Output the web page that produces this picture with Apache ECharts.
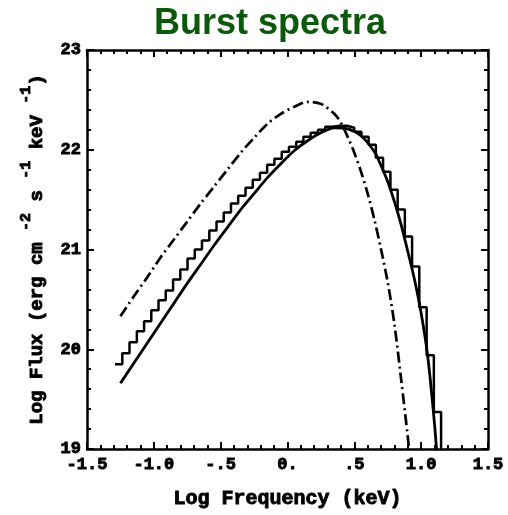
<!DOCTYPE html>
<html>
<head>
<meta charset="utf-8">
<script src="https://cdn.jsdelivr.net/npm/echarts@6/dist/echarts.min.js"></script>
<style>html,body{margin:0;padding:0;background:#fff;}#c{width:508px;height:515px;}</style>
</head>
<body>
<div id="c"></div>
<script>
// ---- data ----
var xTickLabels = ['-1.5', '-1.0', '-.5', '0.', '.5', '1.0', '1.5'];
var yTickLabels = ['19', '20', '21', '22', '23'];

var solidX = [-1.25,-1.15,-1.05,-0.95,-0.85,-0.75,-0.65,-0.55,-0.45,-0.35,-0.25,-0.15,-0.05,0.05,0.15,0.25,0.35,0.45,0.55,0.65,0.70,0.75,0.80,0.85,0.90,0.95,1.00,1.05,1.10,1.12];
var solidY = [19.66,19.86,20.06,20.26,20.46,20.66,20.85,21.04,21.22,21.40,21.56,21.72,21.86,21.99,22.09,22.17,22.22,22.21,22.14,21.98,21.84,21.68,21.48,21.25,20.98,20.70,20.36,19.92,19.25,18.90];

var dashX = [-1.25,-1.15,-1.05,-0.95,-0.85,-0.75,-0.65,-0.55,-0.45,-0.35,-0.25,-0.15,-0.05,0.05,0.15,0.25,0.35,0.40,0.45,0.50,0.55,0.60,0.65,0.70,0.75,0.80,0.85,0.90,0.92];
var dashY = [20.33,20.53,20.72,20.92,21.10,21.28,21.46,21.63,21.80,21.97,22.12,22.26,22.36,22.43,22.48,22.46,22.36,22.27,22.13,21.97,21.78,21.56,21.30,21.00,20.67,20.25,19.70,19.12,18.85];

var histEdges = [-1.290,-1.236,-1.182,-1.127,-1.073,-1.019,-0.965,-0.911,-0.856,-0.802,-0.748,-0.694,-0.640,-0.585,-0.531,-0.477,-0.423,-0.369,-0.314,-0.260,-0.206,-0.152,-0.098,-0.043,0.011,0.065,0.119,0.173,0.228,0.282,0.336,0.390,0.444,0.499,0.553,0.607,0.661,0.715,0.770,0.824,0.878,0.932,0.986,1.041,1.095,1.149];
var histValues = [19.85,19.96,20.07,20.18,20.28,20.39,20.49,20.59,20.70,20.80,20.91,21.00,21.09,21.19,21.28,21.37,21.46,21.54,21.62,21.70,21.77,21.85,21.91,21.98,22.03,22.08,22.13,22.17,22.20,22.23,22.24,22.24,22.22,22.18,22.13,22.05,21.92,21.78,21.60,21.40,21.13,20.83,20.42,19.94,19.37];

var xMin = -1.5, xMax = 1.5, yMin = 19, yMax = 23;

// ---- build series data ----
function pairs(xs, ys) { var out = []; for (var i = 0; i < xs.length; i++) out.push([xs[i], ys[i]]); return out; }
var histData = pairs(histEdges.slice(0, histValues.length), histValues);
histData.push([histEdges[histEdges.length - 1], yMin - 1]);

var FONT = '"Liberation Mono", "DejaVu Sans Mono", monospace';

function xFmt(v) {
  var idx = Math.round((v - xMin) / 0.5);
  return xTickLabels[idx] !== undefined ? xTickLabels[idx] : '';
}
function yFmt(v) {
  var idx = Math.round(v - yMin);
  return yTickLabels[idx] !== undefined ? yTickLabels[idx] : '';
}

var tickCommon = {
  axisLine: { show: true, onZero: false, lineStyle: { color: '#000', width: 2.5 } },
  axisTick: { show: true, inside: true, length: 7, lineStyle: { color: '#000', width: 2 } },
  minorTick: { show: true, splitNumber: 5, length: 4, lineStyle: { color: '#000', width: 2 } },
  splitLine: { show: false },
  minorSplitLine: { show: false }
};

var heavy = { textBorderColor: '#000', textBorderWidth: 0.9 };

var chart = echarts.init(document.getElementById('c'), null, { renderer: 'canvas' });
chart.setOption({
  backgroundColor: '#fff',
  animation: false,
  title: {
    text: 'Burst spectra',
    left: 265, top: 1, textAlign: 'center',
    textStyle: { color: '#0b5a0b', fontSize: 36, fontWeight: 'bold', fontFamily: '"Liberation Sans", Arial, sans-serif' }
  },
  grid: { left: 87, right: 20, top: 50, bottom: 66, containLabel: false },
  xAxis: [
    Object.assign({
      type: 'value', min: xMin, max: xMax, interval: 0.5, position: 'bottom',
      name: 'Log Frequency (keV)', nameLocation: 'middle', nameGap: 40,
      nameTextStyle: Object.assign({ color: '#000', fontSize: 20, fontWeight: 'bold', fontFamily: FONT }, heavy),
      axisLabel: Object.assign({ show: true, color: '#000', fontSize: 17, fontWeight: 'bold', fontFamily: FONT, margin: 7, formatter: xFmt }, heavy)
    }, tickCommon),
    Object.assign({
      type: 'value', min: xMin, max: xMax, interval: 0.5, position: 'top',
      axisLabel: { show: false }
    }, tickCommon)
  ],
  yAxis: [
    Object.assign({
      type: 'value', min: yMin, max: yMax, interval: 1, position: 'left',
      name: '{m|Log Flux (erg cm }{s|-2}{m| s }{s|-1}{m| keV }{s|-1}{m|)}',
      nameLocation: 'middle', nameGap: 40, nameRotate: 90,
      nameTextStyle: {
        rich: {
          m: Object.assign({ color: '#000', fontSize: 19, fontWeight: 'bold', fontFamily: FONT, lineHeight: 28, verticalAlign: 'bottom' }, heavy),
          s: Object.assign({ color: '#000', fontSize: 15, fontWeight: 'bold', fontFamily: FONT, lineHeight: 28, verticalAlign: 'top' }, heavy)
        }
      },
      axisLabel: Object.assign({ show: true, color: '#000', fontSize: 17, fontWeight: 'bold', fontFamily: FONT, margin: 6, formatter: yFmt }, heavy)
    }, tickCommon),
    Object.assign({
      type: 'value', min: yMin, max: yMax, interval: 1, position: 'right',
      axisLabel: { show: false }
    }, tickCommon)
  ],
  series: [
    {
      type: 'line', name: 'histogram', data: histData, step: 'end',
      showSymbol: false, clip: true,
      lineStyle: { color: '#000', width: 2.5 }
    },
    {
      type: 'line', name: 'model', data: pairs(solidX, solidY), smooth: 0.3,
      showSymbol: false, clip: true,
      lineStyle: { color: '#000', width: 2.8 }
    },
    {
      type: 'line', name: 'model2', data: pairs(dashX, dashY), smooth: 0.3,
      showSymbol: false, clip: true,
      lineStyle: { color: '#000', width: 2.7, type: [11, 4, 2, 4] }
    }
  ]
});
</script>
</body>
</html>
